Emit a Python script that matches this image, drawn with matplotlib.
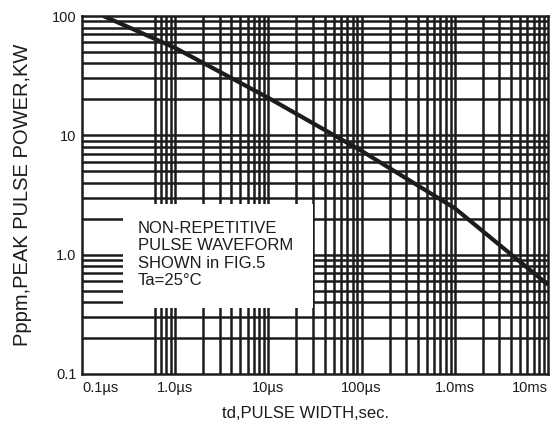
import matplotlib
matplotlib.use("Agg")
import matplotlib.pyplot as plt
from matplotlib.patches import Rectangle
import numpy as np

# ---- data ----
pulse_width_s = [1.7e-7, 1e-6, 1e-5, 1e-4, 1e-3, 1e-2]
peak_power_kw = [100, 54, 20.6, 7.4, 2.45, 0.56]

x_tick_values = [1e-7, 1e-6, 1e-5, 1e-4, 1e-3, 1e-2]
x_tick_labels = ["0.1µs", "1.0µs", "10µs", "100µs", "1.0ms", "10ms"]
y_tick_values = [0.1, 1, 10, 100]
y_tick_labels = ["0.1", "1.0", "10", "100"]

note_lines = ["NON-REPETITIVE", "PULSE WAVEFORM", "SHOWN in FIG.5", "Ta=25°C"]
x_label = "td,PULSE WIDTH,sec."
y_label = "Pppm,PEAK PULSE POWER,KW"

plt.rcParams["font.family"] = ["Liberation Sans", "DejaVu Sans"]
INK = "#1c1c1c"

fig = plt.figure(figsize=(5.55, 4.28), dpi=100)
ax = fig.add_axes([0.1477, 0.1262, 0.8397, 0.8364])
ax.set_xscale("log")
ax.set_yscale("log")
ax.set_xlim(1e-7, 1e-2)
ax.set_ylim(0.1, 100)

# grid (log paper): vertical lines start at 0.6 µs in the first decade
vx = []
for dec in x_tick_values[:-1]:
    mults = range(6, 10) if dec == x_tick_values[0] else range(2, 10)
    vx += [dec * m for m in mults]
    if dec != x_tick_values[0]:
        vx.append(dec)
hy = []
for dec in y_tick_values[:-1]:
    hy += [dec * m for m in range(2, 10)]
    if dec != y_tick_values[0]:
        hy.append(dec)
ax.vlines(vx, 0.1, 100, colors=INK, linewidth=1.8, zorder=1)
ax.hlines(hy, 1e-7, 1e-2, colors=INK, linewidth=1.8, zorder=1)

# white note box covering the grid
ax.add_patch(Rectangle((0.088, 0.183), 0.408, 0.292, transform=ax.transAxes,
                       facecolor="white", edgecolor="none", zorder=2))
ax.text(0.120, 0.428, "\n".join(note_lines), transform=ax.transAxes,
        ha="left", va="top", fontsize=12, color=INK, linespacing=1.2, zorder=3)

ax.plot(pulse_width_s, peak_power_kw, color=INK, linewidth=3.0,
        solid_capstyle="butt", zorder=4)

for s in ax.spines.values():
    s.set_linewidth(1.8)
    s.set_color(INK)
    s.set_zorder(5)

ax.xaxis.set_minor_locator(matplotlib.ticker.NullLocator())
ax.yaxis.set_minor_locator(matplotlib.ticker.NullLocator())
ax.set_xticks(x_tick_values)
ax.set_xticklabels(x_tick_labels, fontsize=10.5, color=INK)
ax.set_yticks(y_tick_values)
ax.set_yticklabels(y_tick_labels, fontsize=10.5, color=INK)
ax.tick_params(length=0)
ax.tick_params(axis="x", pad=5)
ax.tick_params(axis="y", pad=4)
xl = ax.get_xticklabels()
xl[0].set_ha("left")
xl[-1].set_ha("right")

ax.set_xlabel(x_label, fontsize=12, color=INK, labelpad=8)
ax.xaxis.label.set_x(0.479)
ax.set_ylabel(y_label, fontsize=14.5, color=INK, labelpad=14)

fig.savefig("out.png", dpi=100, facecolor="white")
